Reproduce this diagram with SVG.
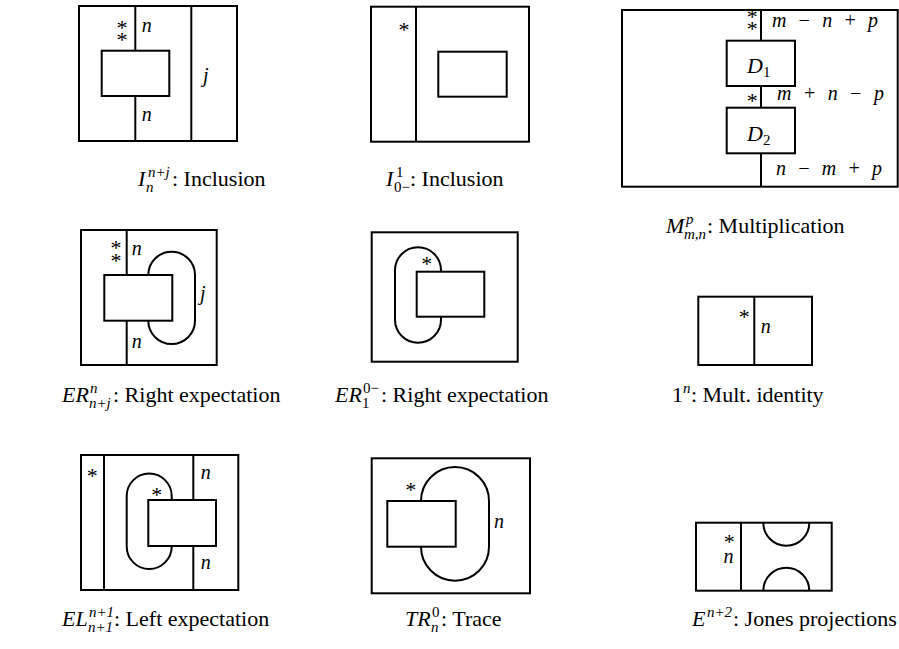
<svg xmlns="http://www.w3.org/2000/svg" width="899" height="649" viewBox="0 0 899 649">
<style>
.b{fill:none;stroke:#000;stroke-width:2}
.w{fill:none;stroke:#000;stroke-width:2}
text{font-family:"Liberation Serif","Times New Roman",serif;fill:#000}
.l{font-size:20px;font-style:italic}
.s{font-size:22px;text-anchor:middle}
.c{font-size:22px}
.i{font-style:italic}
.sc{font-size:15px}
.r{font-style:normal}
</style>
<rect width="899" height="649" fill="#fff"/>

<g id="n1">
<rect class="b" x="79" y="6" width="158" height="135"/>
<line class="w" x1="135.3" y1="6" x2="135.3" y2="51"/>
<line class="w" x1="135.3" y1="96" x2="135.3" y2="141"/>
<line class="w" x1="191.3" y1="6" x2="191.3" y2="141"/>
<rect class="b" x="101.7" y="50.7" width="67.6" height="45.3"/>
<text class="s" x="122" y="34.5">*<tspan x="122" dy="12.5">*</tspan></text>
<text class="l" x="141.7" y="31.7">n</text>
<text class="l" x="141.7" y="120.7">n</text>
<text class="l" x="203" y="81.7">j</text>
<text class="c" x="138" y="186"><tspan class="i">I</tspan><tspan class="i sc" x="148" y="177">n+j</tspan><tspan class="i sc" x="146" y="192">n</tspan><tspan x="172" y="186">: Inclusion</tspan></text>
</g>

<g id="n2">
<rect class="b" x="371" y="6.7" width="158" height="135"/>
<line class="w" x1="416" y1="6.7" x2="416" y2="141.7"/>
<rect class="b" x="438.3" y="51.7" width="68.4" height="45"/>
<text class="s" x="404" y="37">*</text>
<text class="c" x="386" y="186"><tspan class="i">I</tspan><tspan class="sc" x="396" y="177">1</tspan><tspan class="sc" x="394" y="192">0−</tspan><tspan x="410" y="186">: Inclusion</tspan></text>
</g>

<g id="n3">
<rect class="b" x="622" y="10" width="275.7" height="176.7"/>
<line class="w" x1="761" y1="10" x2="761" y2="40.7"/>
<line class="w" x1="761" y1="86" x2="761" y2="107.7"/>
<line class="w" x1="761" y1="153.3" x2="761" y2="186.7"/>
<rect class="b" x="726.7" y="40.7" width="68.3" height="45.3"/>
<rect class="b" x="726.7" y="107.7" width="68.3" height="45.6"/>
<text class="l" x="747" y="73" style="font-size:22px">D<tspan class="sc r" dy="4">1</tspan></text>
<text class="l" x="747" y="141" style="font-size:22px">D<tspan class="sc r" dy="4">2</tspan></text>
<text class="s" x="752.3" y="23.5">*<tspan x="752.3" dy="12.5">*</tspan></text>
<text class="s" x="752.3" y="107.5">*</text>
<text class="l" x="772" y="27.3" textLength="106" lengthAdjust="spacing">m − n + p</text>
<text class="l" x="777" y="100" textLength="107" lengthAdjust="spacing">m + n − p</text>
<text class="l" x="776" y="175" textLength="106" lengthAdjust="spacing">n − m + p</text>
<text class="c" x="666" y="233"><tspan class="i">M</tspan><tspan class="i sc" x="686" y="224">p</tspan><tspan class="i sc" x="684" y="239">m,n</tspan><tspan x="707" y="233">: Multiplication</tspan></text>
</g>

<g id="n4">
<rect class="b" x="81" y="230" width="135.7" height="135"/>
<line class="w" x1="126.7" y1="230" x2="126.7" y2="275"/>
<line class="w" x1="126.7" y1="320.7" x2="126.7" y2="365"/>
<rect class="b" x="104.3" y="275" width="68" height="45.7"/>
<path class="w" d="M148.3,275 A23.35,23.35 0 0 1 195,275 L195,320.7 A23.35,23.35 0 0 1 148.3,320.7"/>
<text class="s" x="116" y="254.5">*<tspan x="116" dy="13">*</tspan></text>
<text class="l" x="131.7" y="255">n</text>
<text class="l" x="131.7" y="348.3">n</text>
<text class="l" x="200" y="300">j</text>
<text class="c" x="62" y="402"><tspan class="i">ER</tspan><tspan class="i sc" x="90" y="393">n</tspan><tspan class="i sc" x="89" y="408">n+j</tspan><tspan x="113" y="402">: Right expectation</tspan></text>
</g>

<g id="n5">
<rect class="b" x="371.7" y="232.3" width="146" height="129.4"/>
<rect class="b" x="416.7" y="271.7" width="67.6" height="45"/>
<path class="w" d="M441,271.7 L441,270.3 A23,23 0 0 0 395,270.3 L395,319.7 A23,23 0 0 0 441,319.7 L441,316.7"/>
<text class="s" x="426.7" y="271.2">*</text>
<text class="c" x="335" y="402"><tspan class="i">ER</tspan><tspan class="sc" x="363" y="393">0−</tspan><tspan class="sc" x="362" y="408">1</tspan><tspan x="381" y="402">: Right expectation</tspan></text>
</g>

<g id="n6">
<rect class="b" x="698.3" y="296.7" width="113.7" height="68.3"/>
<line class="w" x1="754.3" y1="296.7" x2="754.3" y2="365"/>
<text class="s" x="744.3" y="323.8">*</text>
<text class="l" x="760.7" y="333.3">n</text>
<text class="c" x="672" y="402">1<tspan class="i sc" x="683" y="393">n</tspan><tspan x="691" y="402">: Mult. identity</tspan></text>
</g>

<g id="n7">
<rect class="b" x="81" y="455" width="157.3" height="135"/>
<line class="w" x1="104" y1="455" x2="104" y2="590"/>
<line class="w" x1="193.3" y1="455" x2="193.3" y2="500"/>
<line class="w" x1="193.3" y1="546" x2="193.3" y2="590"/>
<rect class="b" x="148.3" y="500" width="67.7" height="46"/>
<path class="w" d="M171.7,500 L171.7,496 A22.5,22.5 0 0 0 126.7,496 L126.7,546.5 A22.5,22.5 0 0 0 171.7,546.5 L171.7,546"/>
<text class="s" x="92.3" y="482.8">*</text>
<text class="s" x="156.7" y="502.2">*</text>
<text class="l" x="200.7" y="479.3">n</text>
<text class="l" x="200.7" y="569.3">n</text>
<text class="c" x="62" y="626"><tspan class="i">EL</tspan><tspan class="i sc" x="89" y="617">n+1</tspan><tspan class="i sc" x="88" y="632">n+1</tspan><tspan x="114" y="626">: Left expectation</tspan></text>
</g>

<g id="n8">
<rect class="b" x="371.7" y="458.3" width="158.3" height="135"/>
<rect class="b" x="387.3" y="501" width="68.4" height="45.7"/>
<path class="w" d="M421,501 A34,34 0 0 1 489,501 L489,546.7 A34,34 0 0 1 421,546.7"/>
<text class="s" x="410.7" y="497.2">*</text>
<text class="l" x="494" y="528.3">n</text>
<text class="c" x="405" y="626"><tspan class="i">TR</tspan><tspan class="sc" x="432" y="617">0</tspan><tspan class="i sc" x="431" y="632">n</tspan><tspan x="441" y="626">: Trace</tspan></text>
</g>

<g id="n9">
<rect class="b" x="696" y="522.7" width="135.7" height="68"/>
<line class="w" x1="741" y1="522.7" x2="741" y2="590.7"/>
<path class="w" d="M763.3,522.7 A23,23 0 0 0 809.3,522.7"/>
<path class="w" d="M763.3,590.7 A23,23 0 0 1 809.3,590.7"/>
<text class="s" x="729.3" y="548.8">*<tspan class="i" style="font-size:20px" x="728.5" dy="14">n</tspan></text>
<text class="c" x="692" y="626"><tspan class="i">E</tspan><tspan class="i sc" x="707" y="617">n+2</tspan><tspan x="733" y="626">: Jones projections</tspan></text>
</g>

<g id="connectors"></g>
</svg>
